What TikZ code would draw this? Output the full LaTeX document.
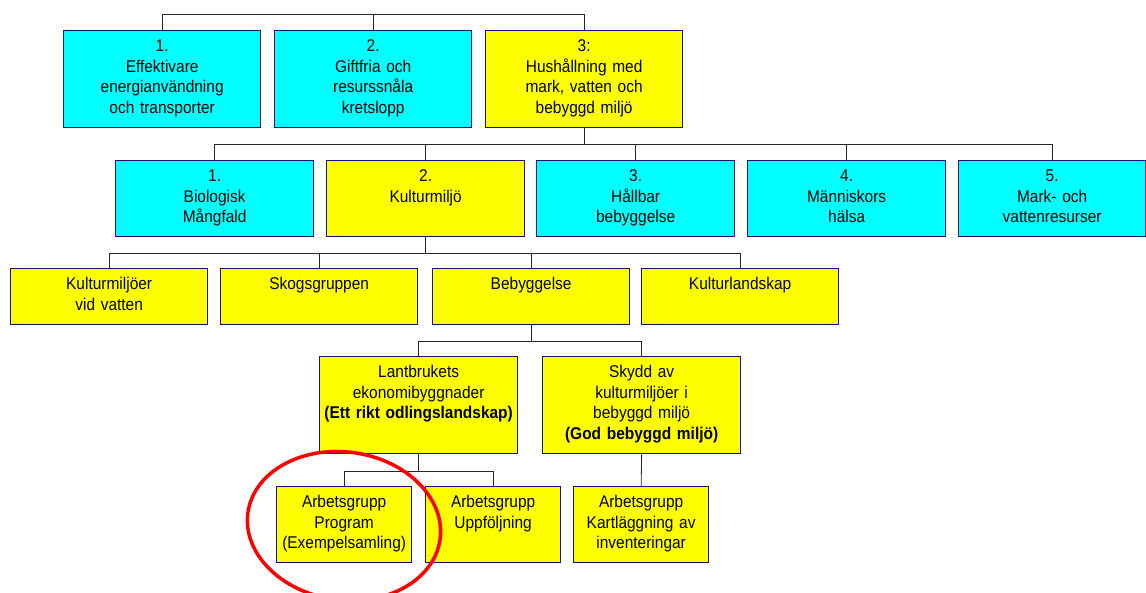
\documentclass[tikz,border=0pt]{standalone}
\usepackage{fontspec}
\setmainfont{Liberation Sans}[FakeStretch=0.91]
\usetikzlibrary{positioning}
\definecolor{navy}{RGB}{20,20,120}
\definecolor{boxcyan}{RGB}{0,255,255}
\definecolor{boxyellow}{RGB}{255,255,0}
\tikzset{
  tbox/.style={draw=navy, line width=1.3pt, anchor=north west, align=center,
    inner xsep=2pt, inner ysep=0pt, text height=21pt,
    font=\fontsize{17}{20.5}\selectfont},
  rowa/.style={tbox, minimum width=197pt, text width=193pt, text depth=76pt},
  rowb/.style={tbox, minimum width=198pt, text width=194pt, text depth=55pt},
  rowc/.style={tbox, minimum width=197pt, text width=193pt, text depth=35pt},
  rowd/.style={tbox, minimum width=135pt, text width=131pt, text depth=55pt},
  cy/.style={fill=boxcyan},
  ye/.style={fill=boxyellow},
  conn/.style={draw=black!85, line width=0.8pt}
}
\begin{document}
\begin{tikzpicture}[x=1pt,y=-1pt]
  \useasboundingbox (0,0) rectangle (1146,592);
  % level 1
  \node[rowa,cy] (e1) at (63,30) {1.\\Effektivare\\energianvändning\\och transporter};
  \node[rowa,cy] (e2) at (274,30) {2.\\Giftfria och\\resurssnåla\\kretslopp};
  \node[rowa,ye] (e3) at (485,30) {3:\\Hushållning med\\mark, vatten och\\bebyggd miljö};
  % level 2
  \node[rowb,cy] (m1) at (115,160) {1.\\Biologisk\\Mångfald};
  \node[rowb,ye] (m2) at (326,160) {2.\\Kulturmiljö};
  \node[rowb,cy] (m3) at (536,160) {3.\\Hållbar\\bebyggelse};
  \node[rowb,cy] (m4) at (747,160) {4.\\Människors\\hälsa};
  \node[rowb,cy,minimum width=187pt,text width=183pt] (m5) at (958,160) {5.\\Mark- och\\vattenresurser};
  % level 3
  \node[rowc,ye] (k1) at (10,268) {Kulturmiljöer\\vid vatten};
  \node[rowc,ye] (k2) at (220,268) {Skogsgruppen};
  \node[rowc,ye] (k3) at (432,268) {Bebyggelse};
  \node[rowc,ye] (k4) at (641,268) {Kulturlandskap};
  % level 4
  \node[rowa,ye,minimum width=198pt,text width=194pt] (l1) at (319,356) {Lantbrukets\\ekonomibyggnader\\\textbf{(Ett rikt odlingslandskap)}};
  \node[rowa,ye,minimum width=198pt,text width=194pt] (l2) at (542,356) {Skydd av\\kulturmiljöer i\\bebyggd miljö\\\textbf{(God bebyggd miljö)}};
  % level 5
  \node[rowd,ye] (a1) at (276,486) {Arbetsgrupp\\Program\\(Exempelsamling)};
  \node[rowd,ye] (a2) at (425,486) {Arbetsgrupp\\Uppföljning};
  \node[rowd,ye] (a3) at (573,486) {Arbetsgrupp\\Kartläggning av\\inventeringar};

  % connectors
  \draw[conn] (e1.north) -- ++(0,-16) coordinate (t1) -| (e3.north);
  \draw[conn] (e2.north) -- (e2.north |- t1);
  \draw[conn] (e3.south) -- ++(0,16) coordinate (t2);
  \draw[conn] (m1.north) |- (t2) -| (m5.north);
  \foreach \n in {m2,m3,m4} \draw[conn] (\n.north) -- (\n.north |- t2);
  \draw[conn] (m2.south) -- ++(0,16) coordinate (t3);
  \draw[conn] (k1.north) |- (t3) -| (k4.north);
  \foreach \n in {k2,k3} \draw[conn] (\n.north) -- (\n.north |- t3);
  \draw[conn] (k3.south) -- ++(0,16) coordinate (t4);
  \draw[conn] (l1.north) |- (t4) -| (l2.north);
  \draw[conn] (l1.south) -- ++(0,17) coordinate (t5);
  \draw[conn] (a1.north) |- (t5) -| (a2.north);
  \draw[conn] (l2.south) -- (a3.north);

  % highlight
  \draw[red, line width=3.5pt] (344,526) ellipse[x radius=97, y radius=74, rotate=-8];
\end{tikzpicture}
\end{document}
